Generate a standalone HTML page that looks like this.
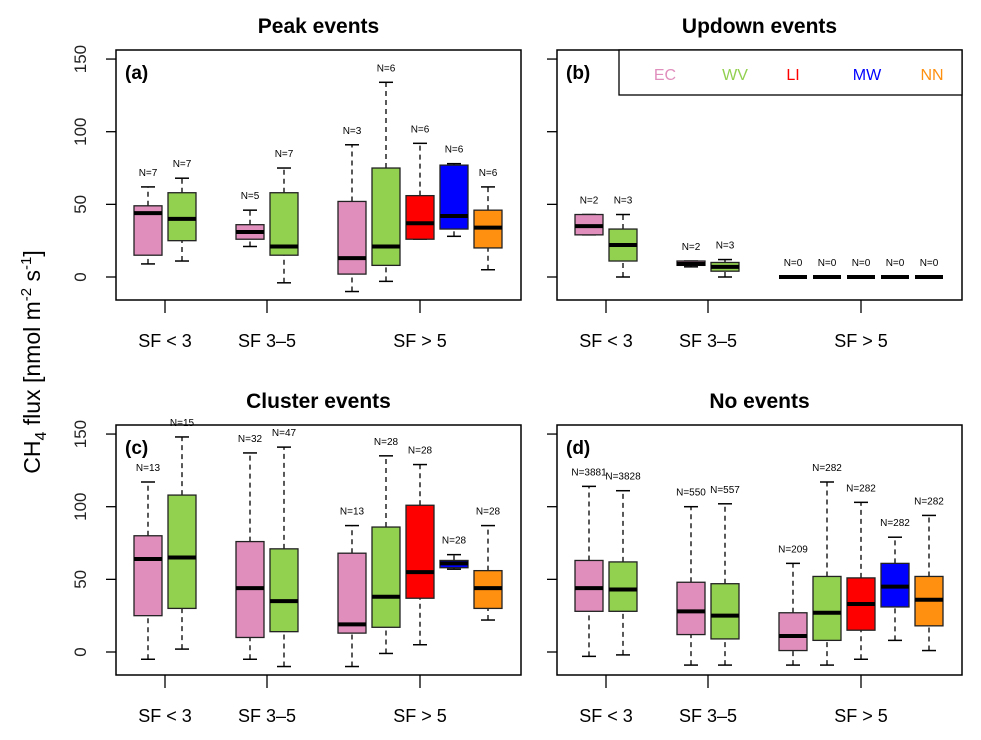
<!DOCTYPE html>
<html><head><meta charset="utf-8"><style>
body{margin:0;background:#fff}
svg{display:block;font-family:"Liberation Sans",Arial,sans-serif}
</style></head><body>
<svg id="chart" width="981" height="740" viewBox="0 0 981 740" xmlns="http://www.w3.org/2000/svg">
<text transform="translate(40,362) rotate(-90)" text-anchor="middle" font-size="23">CH<tspan font-size="16" dy="6">4</tspan><tspan dy="-6"> flux [nmol m</tspan><tspan font-size="15" dy="-9">-2</tspan><tspan dy="9"> s</tspan><tspan font-size="15" dy="-9">-1</tspan><tspan dy="9">]</tspan></text>
</svg>
<script>
const colors = ['#e08fbd','#92d050','#ff0000','#0000ff','#ff9010'];
const positions = [1,2,4,5,7,8,9,10,11];
const colorIdx = [0,1,0,1,0,1,2,3,4];
const groupLabels = ['SF < 3','SF 3\u20135','SF > 5'];
const groupCenters = [1.5,4.5,9];
const yTicks = [0,50,100,150];
const titles = ['Peak events','Updown events','Cluster events','No events'];
const tags = ['(a)','(b)','(c)','(d)'];
const legendLabels = ['EC','WV','LI','MW','NN'];
// each: [lowWhisker, q1, median, q3, highWhisker]
const statsA = [[9,15,44,49,62],[11,25,40,58,68],[21,26,31,36,46],[-4,15,21,58,75],[-10,2,13,52,91],[-3,8,21,75,134],[26,26,37,56,92],[28,33,42,77,78],[5,20,34,46,62]];
const statsB = [[29,29,35,43,43],[0,11,22,33,43],[7,8,9,11,11],[0,4,7,10,12],[0,0,0,0,0],[0,0,0,0,0],[0,0,0,0,0],[0,0,0,0,0],[0,0,0,0,0]];
const statsC = [[-5,25,64,80,117],[2,30,65,108,148],[-5,10,44,76,137],[-10,14,35,71,141],[-10,13,19,68,87],[-1,17,38,86,135],[5,37,55,101,129],[57,58,61,63,67],[22,30,44,56,87]];
const statsD = [[-3,28,44,63,114],[-2,28,43,62,111],[-9,12,28,48,100],[-9,9,25,47,102],[-9,1,11,27,61],[-9,8,27,52,117],[-5,15,33,51,103],[8,31,45,61,79],[1,18,36,52,94]];
const countsA = [7,7,5,7,3,6,6,6,6];
const countsB = [2,3,2,3,0,0,0,0,0];
const countsC = [13,15,32,47,13,28,28,28,28];
const countsD = [3881,3828,550,557,209,282,282,282,282];
const allStats=[statsA,statsB,statsC,statsD];
const allCounts=[countsA,countsB,countsC,countsD];

const svg=document.getElementById('chart');
const NS='http://www.w3.org/2000/svg';
function mk(tag,attrs,parent){const e=document.createElementNS(NS,tag);for(const k in attrs)e.setAttribute(k,attrs[k]);(parent||svg).appendChild(e);return e;}
const origins=[[116,50],[557,50],[116,425],[557,425]];
const W=405,H=250;
origins.forEach((o,pi)=>{
  const [ox,oy]=o;
  const g=mk('g',{});
  
  
  const xs=p=>ox+32+(p-1)*34;
  const ys=v=>oy+227-v*1.453;
  // title
  const t=mk('text',{x:ox+W/2,y:oy-17,'text-anchor':'middle','font-size':21,'font-weight':'bold'},g);
  t.textContent=titles[pi];
  
  
  // frame
  const fr=mk('rect',{x:ox,y:oy,width:W,height:H,fill:'none',stroke:'#000','stroke-width':1.5},g);
  
  
  // y ticks
  yTicks.forEach(v=>{
    mk('line',{x1:ox-10,x2:ox,y1:ys(v),y2:ys(v),stroke:'#000','stroke-width':1.3},g);
    if(pi%2===0){
      const tl=mk('text',{transform:`translate(${ox-30},${ys(v)}) rotate(-90)`,'text-anchor':'middle','font-size':17,fill:'#222'},g);
      tl.textContent=v;
      
      
    }
  });
  // x ticks/labels
  groupCenters.forEach((c,i)=>{
    mk('line',{x1:xs(c),x2:xs(c),y1:oy+H,y2:oy+H+13,stroke:'#000','stroke-width':1.3},g);
    const xl=mk('text',{x:xs(c),y:oy+H+47,'text-anchor':'middle','font-size':18},g);
    xl.textContent=groupLabels[i];
    
    
  });
  const tg=mk('text',{x:ox+9,y:oy+29,'font-size':19,'font-weight':'bold'},g);
  tg.textContent=tags[pi];
  
  
  const st=allStats[pi],cn=allCounts[pi];
  positions.forEach((p,i)=>{
    const s=st[i],cx=xs(p),hw=14;
    const bg=mk('g',{},g);
    
    
    if(cn[i]>0){
      mk('line',{x1:cx,x2:cx,y1:ys(s[0]),y2:ys(s[1]),stroke:'#000','stroke-width':1.3,'stroke-dasharray':'5,4'},bg);
      mk('line',{x1:cx,x2:cx,y1:ys(s[3]),y2:ys(s[4]),stroke:'#000','stroke-width':1.3,'stroke-dasharray':'5,4'},bg);
      mk('line',{x1:cx-7,x2:cx+7,y1:ys(s[0]),y2:ys(s[0]),stroke:'#000','stroke-width':1.5},bg);
      mk('line',{x1:cx-7,x2:cx+7,y1:ys(s[4]),y2:ys(s[4]),stroke:'#000','stroke-width':1.5},bg);
      mk('rect',{x:cx-hw,y:ys(s[3]),width:2*hw,height:Math.max(0.5,ys(s[1])-ys(s[3])),fill:colors[colorIdx[i]],stroke:'#222','stroke-width':1.3},bg);
    }
    mk('line',{x1:cx-hw,x2:cx+hw,y1:ys(s[2]),y2:ys(s[2]),stroke:'#000','stroke-width':4},bg);
    const nl=mk('text',{x:cx,y:ys(s[4])-11,'text-anchor':'middle','font-size':10},bg);
    nl.textContent='N='+cn[i];
    
    
  });
  if(pi===1){
    const lg=mk('g',{},g);
    
    
    mk('rect',{x:619,y:50,width:343,height:45,fill:'#fff',stroke:'#000','stroke-width':1.3},lg);
    const lx=[665,735,793,867,932];
    legendLabels.forEach((l,i)=>{
      const e=mk('text',{x:lx[i],y:80,'text-anchor':'middle','font-size':16,fill:colors[i]},lg);
      e.textContent=l;
      
      
    });
  }
});
</script>
</body></html>
